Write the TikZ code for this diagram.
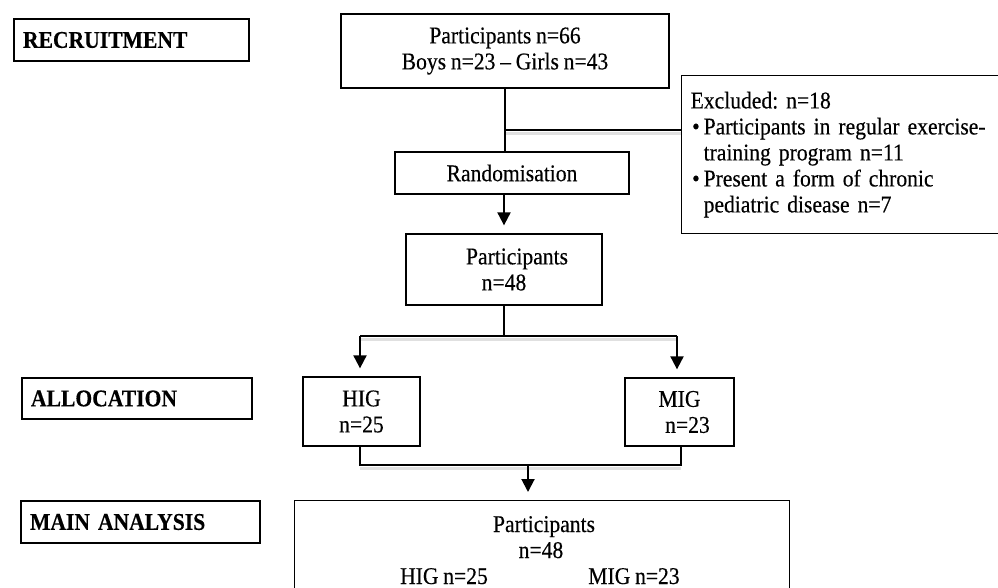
\documentclass[tikz,border=0pt]{standalone}
\usepackage{fontspec}
\setmainfont{Liberation Serif}[FakeStretch=0.9, WordSpace=0.88, FakeBold=0.35]
\usetikzlibrary{arrows.meta}
\frenchspacing
\tikzset{
  box/.style={draw, line width=1.3pt, rectangle, inner sep=0pt, align=center,
    font=\fontsize{24}{26}\selectfont},
  lbl/.style={box, align=left, inner xsep=9pt, font=\fontsize{24}{26}\selectfont\bfseries},
  txt/.style={inner sep=0pt, anchor=base, font=\fontsize{24}{26}\selectfont},
  conn/.style={line width=2pt},
  arr/.style={line width=2pt, -{Triangle[length=13pt,width=13pt]}, shorten >=8pt},
  shade/.style={line width=3pt, draw=black!12, line cap=butt}
}
\begin{document}
\begin{tikzpicture}[x=1pt,y=-1pt]
\useasboundingbox (0,0) rectangle (998,588);
\clip (0,0) rectangle (998,588);
% left labels
\node[lbl, minimum width=235pt, minimum height=42pt, text width=217pt] (rec) at (131.5,40) {RECRUITMENT};
\node[lbl, minimum width=230pt, minimum height=41pt, text width=212pt] (alloc) at (137,398.5) {ALLOCATION};
\node[lbl, minimum width=239pt, minimum height=42pt, text width=221pt] (mainlbl) at (140.5,522) {MAIN ANALYSIS};
% flow boxes
\node[box, minimum width=328pt, minimum height=74pt] (top) at (505,51) {Participants n=66\\Boys n=23 -- Girls n=43};
\node[box, minimum width=234pt, minimum height=42pt] (rand) at (512,173) {Randomisation};
\node[box, minimum width=330pt, minimum height=158pt, align=left, text width=312pt, anchor=north west] (excl) at (681,75)
  {Excluded: n=18\\
   \makebox[13pt][l]{\hspace{1.5pt}\textbullet}Participants in regular exercise-\\
   \hspace*{13pt}training program n=11\\
   \makebox[13pt][l]{\hspace{1.5pt}\textbullet}Present a form of chronic\\
   \hspace*{13pt}pediatric disease n=7};
\node[box, minimum width=196pt, minimum height=71pt] (p48) at (504,269.5) {\hspace*{26pt}Participants\\n=48};
\node[box, minimum width=117pt, minimum height=69pt] (hig) at (361.5,411.5) {HIG\\n=25};
\node[box, minimum width=109pt, minimum height=68pt] (mig) at (679.5,412) {MIG\\\hspace*{16pt}n=23};
\node[box, minimum width=495pt, minimum height=130pt, anchor=north west] (main) at (294,500) {};
\node[txt] (m1) at (544,532) {Participants};
\node[txt] (m2) at (541,558) {n=48};
\node[txt] (m3) at (444,584) {HIG n=25};
\node[txt] (m4) at (634,584) {MIG n=23};
% coordinates
\coordinate (j1) at (505,130);
\coordinate (j1e) at (excl.west |- j1);
\coordinate (b1) at (504,336);
\coordinate (bl) at (360,336);
\coordinate (br) at (677,336);
\coordinate (hl) at (360,465);
\coordinate (hr) at (681,465);
\coordinate (hm) at (528,465);
% shadows
\draw[shade] ([yshift=-3.5pt]j1) -- ([yshift=-3.5pt]j1e);
\draw[shade] ([yshift=-3.5pt]bl) -- ([yshift=-3.5pt]br);
\draw[shade] ([yshift=-3.5pt]hl) -- ([yshift=-3.5pt]hr);
% connectors
\draw[conn] (top.south) -- (top.south |- rand.north);
\draw[conn] (j1) -- (j1e);
\draw[arr] (rand.south -| p48.north) -- (p48.north);
\draw[conn] (p48.south) -- (b1);
\draw[conn] (bl) -- (br);
\draw[arr] (bl) -- (bl |- hig.north);
\draw[arr] (br) -- (br |- mig.north);
\draw[conn] (hig.south -| hl) -- (hl) -- (hr) -- (mig.south -| hr);
\draw[arr] (hm) -- (hm |- main.north);
\end{tikzpicture}
\end{document}
